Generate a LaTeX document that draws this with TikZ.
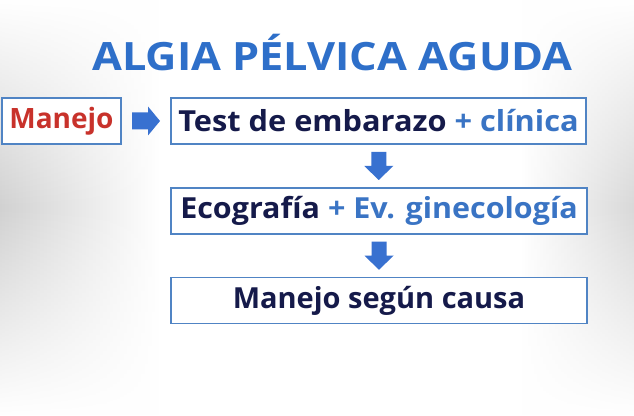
\documentclass[tikz,border=0pt]{standalone}
\usepackage{graphicx}
\usepackage{fontspec}
\setmainfont{Open Sans}
\usetikzlibrary{calc,fadings}
\definecolor{titleblue}{HTML}{2E6FC9}
\definecolor{txtblue}{HTML}{3A74C4}
\definecolor{navy}{HTML}{151A4A}
\definecolor{redtxt}{HTML}{C8322B}
\definecolor{boxline}{HTML}{5084C4}
\definecolor{arrowfill}{HTML}{3871D0}
\tikzfading[name=fadetb, top color=transparent!100, bottom color=transparent!100, middle color=transparent!0]
\tikzset{
  stepbox/.style={draw=boxline, line width=1.2pt, fill=white, minimum height=46pt, inner sep=0pt, font=\fontsize{29}{32}\selectfont\bfseries, text=navy},
  blockarrow/.style={fill=arrowfill, draw=none},
}
\begin{document}
\begin{tikzpicture}[x=1pt,y=1pt]
\useasboundingbox (0,0) rectangle (634,415);
\fill[white] (0,0) rectangle (634,415);
\shade[left color=black!18, right color=white, path fading=fadetb] (0,0) rectangle (160,415);
\shade[left color=white, right color=black!15, path fading=fadetb] (520,0) rectangle (634,415);
\node (title) at (332.5,362.5) {\fontsize{39}{42}\selectfont\bfseries\color{titleblue}\scalebox{1.11}[1]{ALGIA PÉLVICA AGUDA}};
\node[stepbox, minimum width=119pt, text=redtxt, font=\fontsize{28}{32}\selectfont\bfseries] (manejo) at (61.5,294) {Manejo};
\node[stepbox, minimum width=415pt] (b1) at (378.5,294) {\scalebox{1.06}[1]{Test de embarazo \textcolor{txtblue}{+ clínica}}};
\node[stepbox, minimum width=416pt] (b2) at (379,204) {\scalebox{1.05}[1]{Ecografía \textcolor{txtblue}{+ Ev. ginecología}}};
\node[stepbox, minimum width=416pt] (b3) at (379,114.5) {Manejo según causa};
\coordinate (a0) at ($(manejo.east)!0.5!(b1.west)$);
\coordinate (a1) at ($(b1.south)!0.5!(b2.north)$);
\coordinate (a2) at ($(b2.south)!0.5!(b3.north)$);
\begin{scope}[shift={(a0)}]
\fill[blockarrow] (-14,-8.5) -- (2,-8.5) -- (2,-14.5) -- (14,0) -- (2,14.5) -- (2,8.5) -- (-14,8.5) -- cycle;
\end{scope}
\foreach \c in {a1,a2}{
\begin{scope}[shift={(\c)}, rotate=-90]
\fill[blockarrow] (-14,-7.5) -- (0,-7.5) -- (0,-14.5) -- (14,0) -- (0,14.5) -- (0,7.5) -- (-14,7.5) -- cycle;
\end{scope}
}
\end{tikzpicture}
\end{document}
